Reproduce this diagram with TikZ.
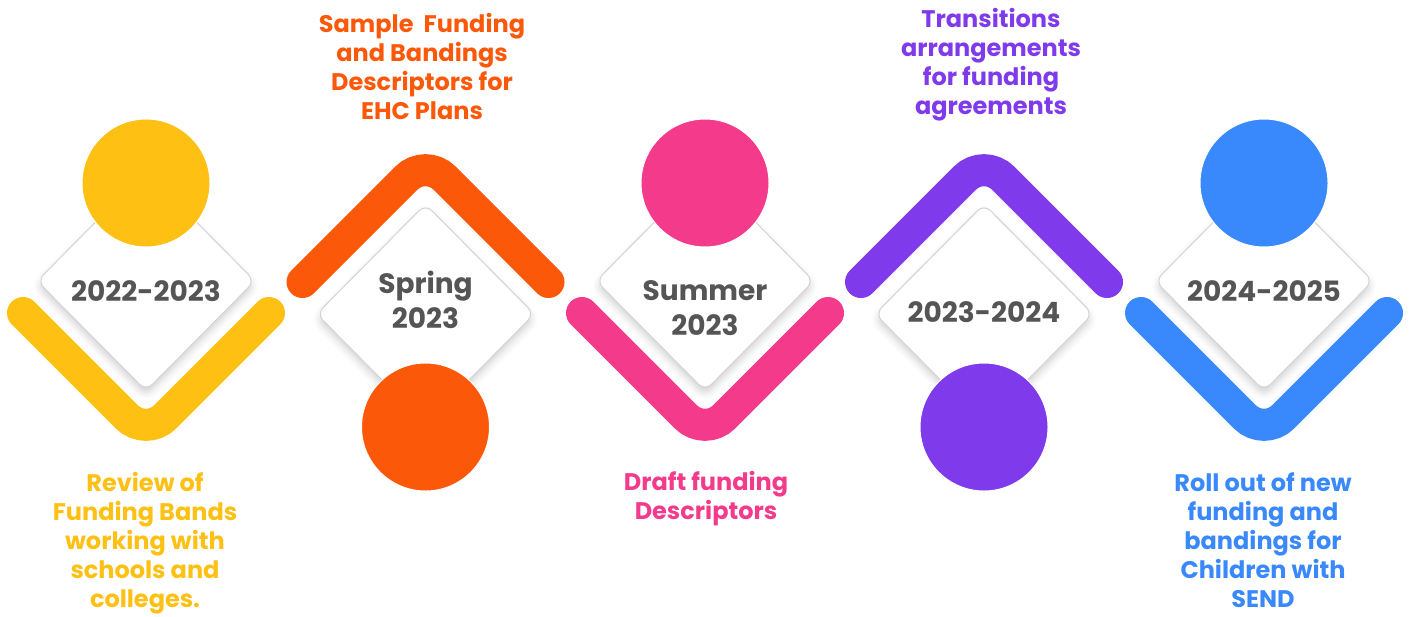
\documentclass[tikz,border=0pt]{standalone}
\usepackage{fontspec}
\setmainfont{Poppins}
\usepackage{tikz}
\usetikzlibrary{shapes.geometric, positioning, shadows.blur}

\definecolor{tlyellow}{HTML}{FDC013}
\definecolor{tlorange}{HTML}{FC580A}
\definecolor{tlpink}{HTML}{F33A8B}
\definecolor{tlpurple}{HTML}{7F3AEB}
\definecolor{tlblue}{HTML}{3A89FC}
\definecolor{tlgray}{HTML}{555555}

\begin{document}
\begin{tikzpicture} [x=1pt, y=-1pt, on grid, font=\bfseries,
		card/.style = {diamond, draw=black!17, line width=1pt, fill=white, rounded corners=9pt,
			minimum width=218pt, minimum height=220pt, inner sep=0pt,
			blur shadow={shadow xshift=0pt, shadow yshift=-5pt, shadow blur radius=7pt, shadow opacity=18}},
		dot/.style = {circle, minimum size=128pt, inner sep=0pt, draw=white, line width=1pt},
		band/.style = {line width=32pt, line cap=round, rounded corners=27pt},
		year/.style = {text=tlgray, align=center, font=\fontsize{28}{35}\selectfont\bfseries},
		note/.style = {align=center, font=\fontsize{24}{29}\selectfont\bfseries}]
			% Page frame
			\useasboundingbox (0,0) rectangle (1412,616);
			% Diamond cards : down steps at 281, up steps at 314
			\node (d1) [card] at (146,281) {};
			\node (d2) [card] at (425.5,314) {};
			\node (d3) [card] at (705,281) {};
			\node (d4) [card] at (984,314) {};
			\node (d5) [card] at (1264,281) {};
			% Band corners
			\coordinate [below left = 32pt and 123pt of d1] (b1l);
			\coordinate [below = 155pt of d1] (b1m);
			\coordinate [below right = 32pt and 123pt of d1] (b1r);
			\coordinate [above left = 32pt and 123pt of d2] (b2l);
			\coordinate [above = 155pt of d2] (b2m);
			\coordinate [above right = 32pt and 123pt of d2] (b2r);
			\coordinate [below left = 32pt and 123pt of d3] (b3l);
			\coordinate [below = 155pt of d3] (b3m);
			\coordinate [below right = 32pt and 123pt of d3] (b3r);
			\coordinate [above left = 32pt and 123pt of d4] (b4l);
			\coordinate [above = 155pt of d4] (b4m);
			\coordinate [above right = 32pt and 123pt of d4] (b4r);
			\coordinate [below left = 32pt and 123pt of d5] (b5l);
			\coordinate [below = 155pt of d5] (b5m);
			\coordinate [below right = 32pt and 123pt of d5] (b5r);
			% Bands
			\draw [band, tlyellow] (b1l) -- (b1m) -- (b1r);
			\draw [band, tlorange] (b2l) -- (b2m) -- (b2r);
			\draw [band, tlpink] (b3l) -- (b3m) -- (b3r);
			\draw [band, tlpurple] (b4l) -- (b4m) -- (b4r);
			\draw [band, tlblue] (b5l) -- (b5m) -- (b5r);
			% Circles
			\node (c1) [dot, fill=tlyellow, above = 98pt of d1] {};
			\node (c2) [dot, fill=tlorange, below = 113pt of d2] {};
			\node (c3) [dot, fill=tlpink, above = 98pt of d3] {};
			\node (c4) [dot, fill=tlpurple, below = 113pt of d4] {};
			\node (c5) [dot, fill=tlblue, above = 98pt of d5] {};
			% Years
			\node (y1) [year] at (146,291) {2022-2023};
			\node (y2) [year] at (425.5,299.5) {Spring\\2023};
			\node (y3) [year] at (705,308.5) {Summer\\2023};
			\node (y4) [year] at (984,312) {2023-2024};
			\node (y5) [year] at (1264,291) {2024-2025};
			% Notes
			\node (n1) [note, text=tlyellow] at (145,543) {Review of\\Funding Bands\\working with\\schools and\\colleges.};
			\node (n2) [note, text=tlorange] at (422,66) {Sample\ \ Funding\\and Bandings\\Descriptors for\\EHC Plans};
			\node (n3) [note, text=tlpink] at (706,499) {Draft funding\\Descriptors};
			\node (n4) [note, text=tlpurple] at (991,65) {Transitions\\arrangements\\for funding\\agreements};
			\node (n5) [note, text=tlblue] at (1263,540) {Roll out of new\\funding and\\bandings for\\Children with\\SEND};
		\end{tikzpicture}
\end{document}
